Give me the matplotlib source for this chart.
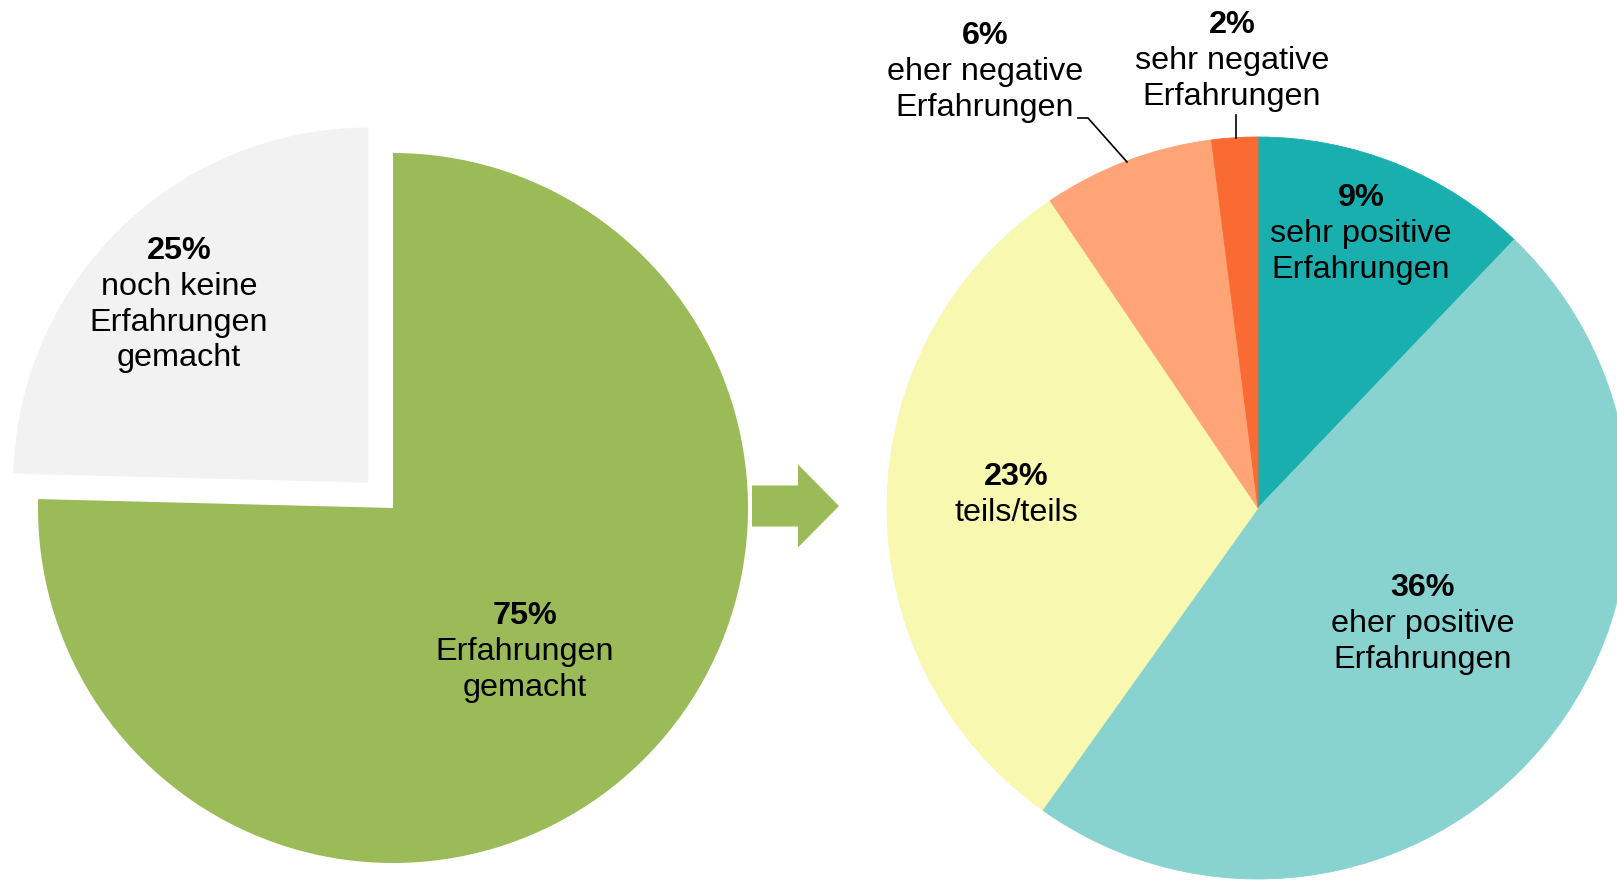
import matplotlib.pyplot as plt
import matplotlib.patches as mpatches

plt.rcParams["font.family"] = ["Liberation Sans", "DejaVu Sans"]

W, H = 1617, 880

# left pie: experience made or not
left_values = [75.4, 24.6]
left_pct = ["75%", "25%"]
left_text = ["Erfahrungen\ngemacht", "noch keine\nErfahrungen\ngemacht"]
left_colors = ["#9BBB59", "#F2F2F2"]

# right pie: kind of experience (shares of all respondents, labels rounded)
right_values = [9.1, 35.8, 23.0, 5.6, 1.5]
right_pct = ["9%", "36%", "23%", "6%", "2%"]
right_text = ["sehr positive\nErfahrungen", "eher positive\nErfahrungen", "teils/teils",
              "eher negative\nErfahrungen", "sehr negative\nErfahrungen"]
right_colors = ["#1AAFAF", "#88D3CF", "#F8F8B0", "#FFA477", "#F96B32"]


def Y(y):
    # image row -> y-up data coordinate
    return H - y


fig = plt.figure(figsize=(W / 100, H / 100), dpi=100)
ax = fig.add_axes([0, 0, 1, 1])

# explode is in data units here (radius is 355)
wl, _ = ax.pie(left_values, colors=left_colors, startangle=90, counterclock=False,
               explode=[0, 35.5], center=(393, Y(508)), radius=355,
               wedgeprops=dict(linewidth=0))
wr, _ = ax.pie(right_values, colors=right_colors, startangle=90, counterclock=False,
               center=(1258, Y(508)), radius=371,
               wedgeprops=dict(linewidth=0))
for w in wr:
    w.set_edgecolor(w.get_facecolor())
    w.set_linewidth(0.6)

# arrow between the pies
ax.add_patch(mpatches.FancyArrow(752, Y(506), 87, 0, width=41, head_width=83,
                                 head_length=41, length_includes_head=True,
                                 color="#9BBB59", linewidth=0))

fs = 23.3


def label(x, y, pct, txt):
    ax.text(x, Y(y), pct, ha="center", va="center", fontsize=fs, fontweight="bold")
    ax.text(x, Y(y) - 21, txt, ha="center", va="top", fontsize=fs, linespacing=1.24)


label(525, 616, left_pct[0], left_text[0])
label(179, 251, left_pct[1], left_text[1])

label(1361, 198, right_pct[0], right_text[0])
label(1423, 588, right_pct[1], right_text[1])
label(1016, 477, right_pct[2], right_text[2])
label(985, 36, right_pct[3], right_text[3])
label(1232, 25, right_pct[4], right_text[4])

# leader lines
ax.plot([1078, 1088, 1127], [Y(118), Y(118), Y(162)], color="black", linewidth=1.2)
ax.plot([1236, 1236], [Y(115), Y(138)], color="black", linewidth=1.2)

ax.set_xlim(0, W)
ax.set_ylim(0, H)
ax.set_aspect("equal")
ax.axis("off")

fig.savefig("out.png", dpi=100)
